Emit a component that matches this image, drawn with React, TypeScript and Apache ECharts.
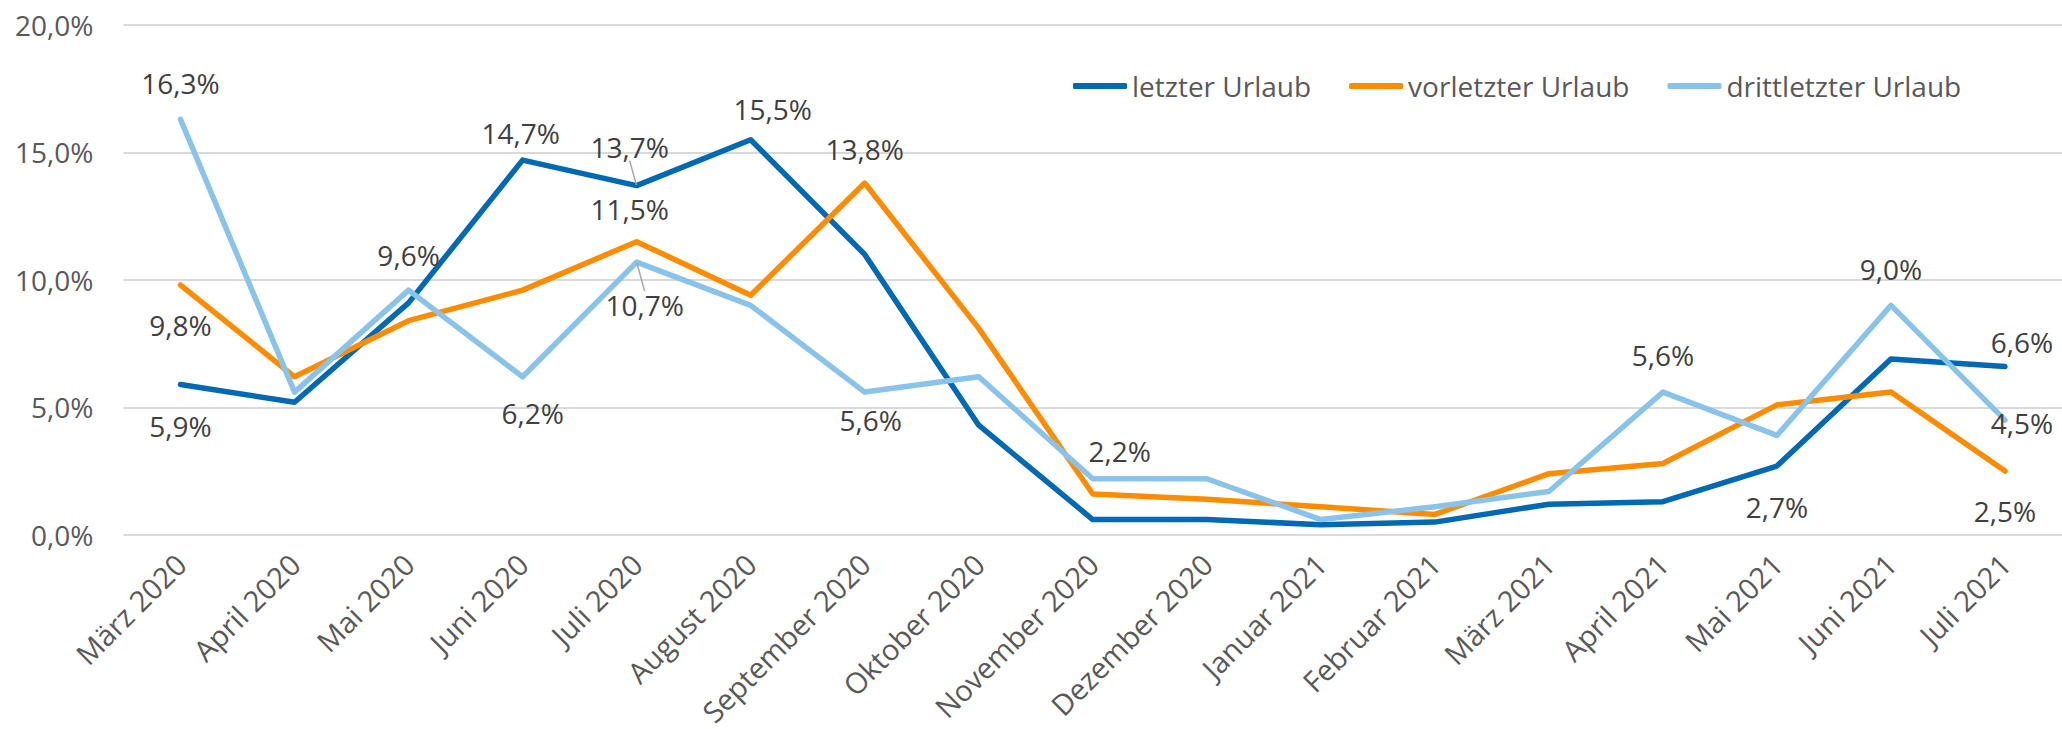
import React, { useEffect, useRef } from 'react';
import * as echarts from 'echarts';

const categories = [
  'März 2020', 'April 2020', 'Mai 2020', 'Juni 2020', 'Juli 2020', 'August 2020',
  'September 2020', 'Oktober 2020', 'November 2020', 'Dezember 2020', 'Januar 2021',
  'Februar 2021', 'März 2021', 'April 2021', 'Mai 2021', 'Juni 2021', 'Juli 2021',
];

const seriesNames = ['letzter Urlaub', 'vorletzter Urlaub', 'drittletzter Urlaub'];

const letzterUrlaub = [5.9, 5.2, 9.1, 14.7, 13.7, 15.5, 11.0, 4.3, 0.6, 0.6, 0.4, 0.5, 1.2, 1.3, 2.7, 6.9, 6.6];
const vorletzterUrlaub = [9.8, 6.2, 8.4, 9.6, 11.5, 9.4, 13.8, 8.1, 1.6, 1.4, 1.1, 0.8, 2.4, 2.8, 5.1, 5.6, 2.5];
const drittletzterUrlaub = [16.3, 5.6, 9.6, 6.2, 10.7, 9.0, 5.6, 6.2, 2.2, 2.2, 0.6, 1.1, 1.7, 5.6, 3.9, 9.0, 4.5];

const yMin = 0;
const yMax = 20;
const yInterval = 5;

// label styling: which points carry a label and where its centre sits relative to the point
const labelPlacement: Array<Record<number, [number, number]>> = [
  { 0: [0, 42], 3: [-2, -27], 4: [-7, -39], 5: [22, -31], 14: [0, 41], 16: [17, -25] },
  { 0: [0, 40], 4: [-7, -33], 6: [0, -34], 16: [0, 40] },
  { 0: [0, -36], 2: [0, -35], 3: [10, 36], 4: [8, 43], 6: [6, 28], 8: [27, -28], 13: [0, -37], 15: [0, -36], 16: [17, 3] },
];
const leaderLines: Array<number[]> = [[4], [], [4]];

const colors = ['#0069B4', '#FF8C00', '#8AC3EA'];
const FONT = '"Open Sans", sans-serif';

const fmt = (v: number) => v.toFixed(1).replace('.', ',') + '%';

export default function App() {
  const ref = useRef<HTMLDivElement>(null);

  useEffect(() => {
    if (!ref.current) return;
    const chart = echarts.init(ref.current, null, { renderer: 'svg' });
    const allValues = [letzterUrlaub, vorletzterUrlaub, drittletzterUrlaub];

    const series = allValues.map((vals, si) => ({
      name: seriesNames[si],
      type: 'line',
      data: vals.map((v, i) => {
        const p = labelPlacement[si][i];
        if (!p) return v;
        const item: any = {
          value: v,
          label: { show: true },
        };
        if (leaderLines[si].includes(i)) {
          item.labelLine = { show: true, length2: 0, lineStyle: { color: '#A6A6A6', width: 1.5 } };
        }
        return item;
      }),
      symbol: 'circle',
      symbolSize: 1,
      showSymbol: true,
      itemStyle: { color: colors[si] },
      lineStyle: { color: colors[si], width: 5.5, cap: 'round', join: 'round' },
      emphasis: { disabled: true },
      label: {
        show: false,
        position: 'inside',
        fontFamily: FONT,
        fontSize: 28,
        color: '#404040',
        formatter: (p: any) => fmt(p.value),
      },
      labelLayout: (params: any) => {
        const p = labelPlacement[si][params.dataIndex];
        return p ? { dx: p[0], dy: p[1] } : {};
      },
      z: 2 + si,
    }));

    chart.setOption({
      animation: false,
      backgroundColor: '#ffffff',
      grid: { left: 123.5, right: -4.5, top: 25, bottom: 191.3, containLabel: false },
      legend: {
        data: seriesNames,
        left: 1068,
        top: 66,
        icon: 'roundRect',
        itemWidth: 54,
        itemHeight: 6,
        itemGap: 38,
        textStyle: { fontFamily: FONT, fontSize: 28, color: '#595959', lineHeight: 30 },
        selectedMode: false,
      },
      xAxis: {
        type: 'category',
        data: categories,
        boundaryGap: true,
        axisLine: { show: false },
        axisTick: { show: false },
        axisLabel: {
          interval: 0,
          rotate: 45,
          margin: 24,
          fontFamily: FONT,
          fontSize: 29,
          color: '#595959',
        },
      },
      yAxis: {
        type: 'value',
        min: yMin,
        max: yMax,
        interval: yInterval,
        axisLine: { show: false },
        axisTick: { show: false },
        splitLine: { lineStyle: { color: '#D9D9D9', width: 2 } },
        axisLabel: {
          margin: 30,
          fontFamily: FONT,
          fontSize: 28,
          color: '#595959',
          formatter: (v: number) => fmt(v),
        },
      },
      series,
    });

    return () => chart.dispose();
  }, []);

  return <div ref={ref} style={{ position: 'absolute', left: 0, top: 0, width: 2062, height: 729 }} />;
}
